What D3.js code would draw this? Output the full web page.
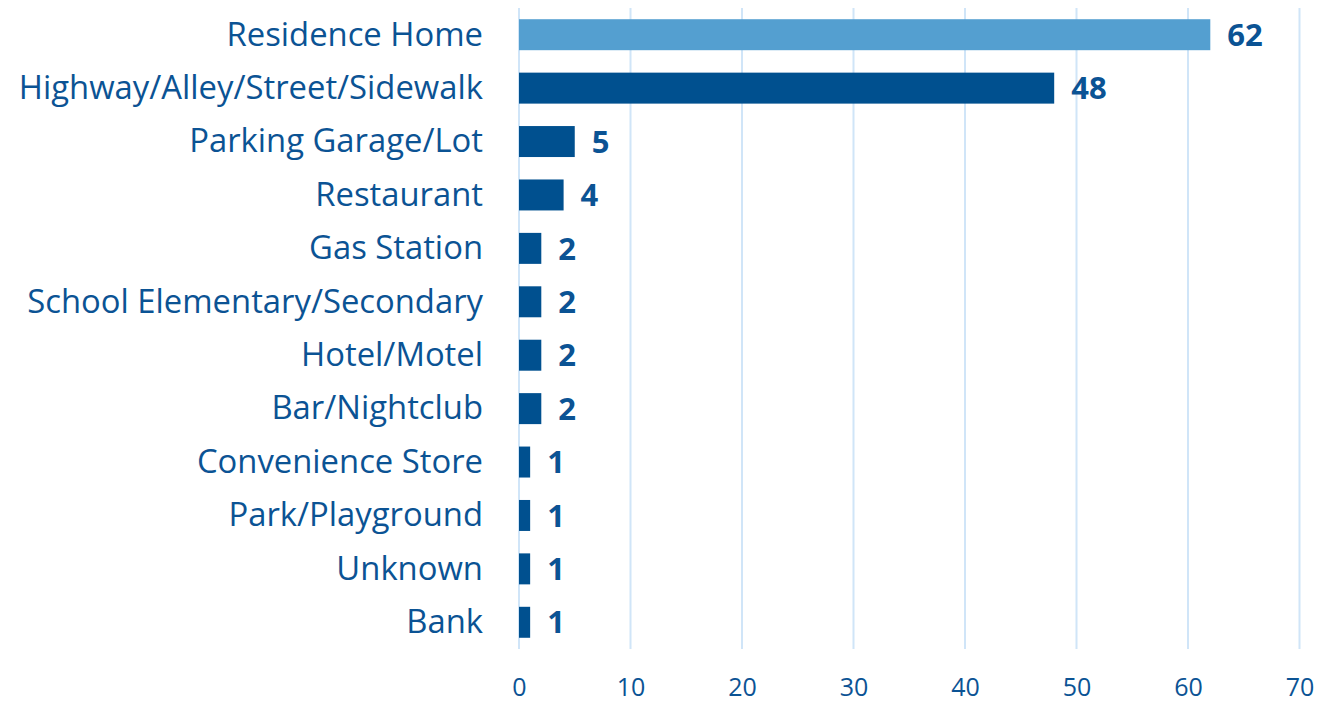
<!DOCTYPE html>
<html>
<head>
<meta charset="utf-8">
<script src="https://cdn.jsdelivr.net/npm/d3@7"></script>
<style>
  body { margin: 0; background: #fff; }
  text { font-family: "Open Sans", sans-serif; }
</style>
</head>
<body>
<svg id="chart" width="1327" height="704"></svg>
<script>
// data
const categories = [
  "Residence Home",
  "Highway/Alley/Street/Sidewalk",
  "Parking Garage/Lot",
  "Restaurant",
  "Gas Station",
  "School Elementary/Secondary",
  "Hotel/Motel",
  "Bar/Nightclub",
  "Convenience Store",
  "Park/Playground",
  "Unknown",
  "Bank"
];
const counts = [62, 48, 5, 4, 2, 2, 2, 2, 1, 1, 1, 1];
const tickValues = [0, 10, 20, 30, 40, 50, 60, 70];

const data = categories.map((c, i) => ({ name: c, value: counts[i] }));

const textColor = "#0b5394",
  darkBlue = "#00508f",
  lightBlue = "#549fd0",
  gridColor = "#d0e5f8";

const svg = d3.select("#chart");

const x = d3.scaleLinear().domain([0, 70]).range([519, 1299.5]);
const y = d3
  .scaleBand()
  .domain(categories)
  .range([8, 649])
  .paddingInner(0.42)
  .paddingOuter(0.21);

// gridlines
svg
  .append("g")
  .selectAll("line")
  .data(tickValues)
  .enter()
  .append("line")
  .attr("x1", d => x(d))
  .attr("x2", d => x(d))
  .attr("y1", 8)
  .attr("y2", 649)
  .attr("stroke", gridColor)
  .attr("stroke-width", 2);

// x axis labels
const xAxis = svg
  .append("g")
  .attr("transform", "translate(0,649)")
  .call(d3.axisBottom(x).tickValues(tickValues).tickSize(0).tickPadding(29));
xAxis.select(".domain").remove();
xAxis
  .selectAll("text")
  .attr("fill", textColor)
  .style("font-size", "25px")
  .style("font-family", "'Open Sans', sans-serif");

// y axis labels
const yAxis = svg
  .append("g")
  .attr("transform", "translate(483,0)")
  .call(d3.axisLeft(y).tickSize(0).tickPadding(0));
yAxis.select(".domain").remove();
yAxis
  .selectAll("text")
  .attr("fill", textColor)
  .attr("dy", "0.33em")
  .style("font-size", "32.8px")
  .style("font-family", "'Open Sans', sans-serif");

// bars
const bar = svg
  .selectAll(".bar")
  .data(data)
  .enter()
  .append("g")
  .attr("class", "bar")
  .attr("transform", d => "translate(0," + y(d.name) + ")");

bar
  .append("rect")
  .attr("x", x(0))
  .attr("width", d => x(d.value) - x(0))
  .attr("height", y.bandwidth())
  .attr("fill", (d, i) => (i === 0 ? lightBlue : darkBlue));

bar
  .append("text")
  .attr("x", d => x(d.value) + 17)
  .attr("y", y.bandwidth() / 2)
  .attr("dy", ".36em")
  .attr("fill", textColor)
  .style("font-size", "31px")
  .style("font-weight", "bold")
  .text(d => d.value);
</script>
</body>
</html>
